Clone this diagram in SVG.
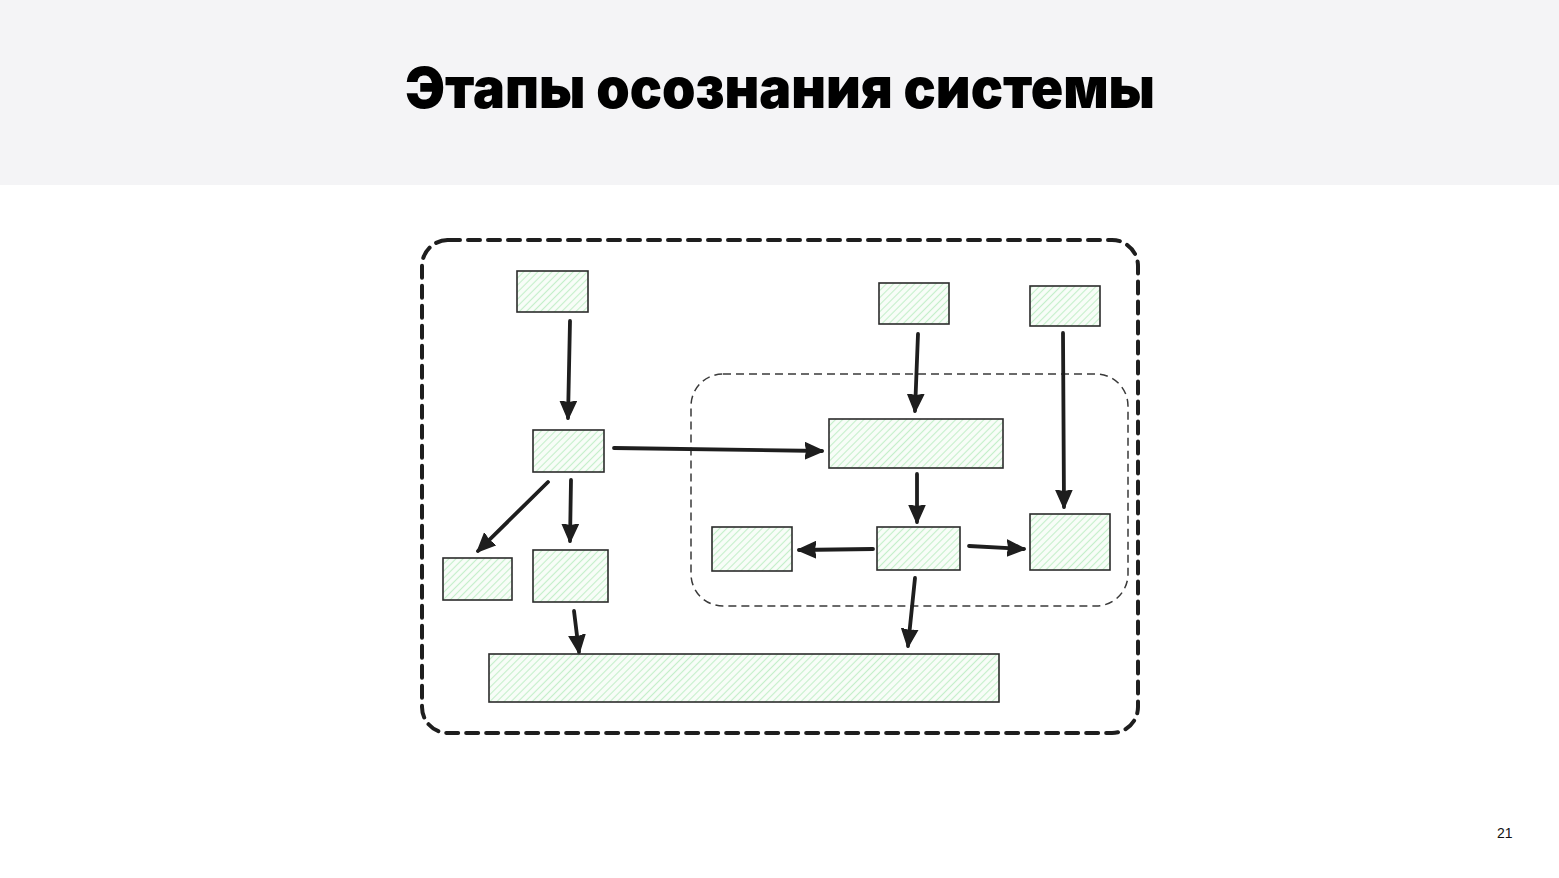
<svg xmlns="http://www.w3.org/2000/svg" width="1559" height="878" viewBox="0 0 1559 878">
  <defs>
    <pattern id="hatch" patternUnits="userSpaceOnUse" width="5" height="5" patternTransform="rotate(45)">
      <rect width="5" height="5" fill="#f8fdf8"/>
      <line x1="2.5" y1="0" x2="2.5" y2="5" stroke="#c4efca" stroke-width="1.1"/>
    </pattern>
    <marker id="arrow" markerUnits="userSpaceOnUse" markerWidth="22" markerHeight="20" refX="17" refY="9" orient="auto">
      <path d="M0,1 L18,9 L0,17 L2,9 Z" fill="#1e1e1e" stroke="#1e1e1e" stroke-width="1.5" stroke-linejoin="round"/>
    </marker>
    <style>
      .node { fill: url(#hatch); stroke: #2b2b2b; stroke-width: 1.6; }
      .conn { stroke: #1e1e1e; stroke-width: 3.8; fill: none; stroke-linecap: round; marker-end: url(#arrow); }
      .title { font-family: Inter, "Liberation Sans", sans-serif; font-weight: 900; font-size: 56px; fill: #000; }
      .pg { font-family: "Liberation Sans", Arial, sans-serif; font-size: 14px; fill: #111; }
    </style>
  </defs>

  <rect x="0" y="0" width="1559" height="878" fill="#ffffff"/>
  <rect x="0" y="0" width="1559" height="185" fill="#f4f4f6"/>
  <text class="title" x="405" y="108" textLength="750" lengthAdjust="spacingAndGlyphs">Этапы осознания системы</text>

  <g id="outer-frame">
    <rect x="422" y="240" width="716" height="493" rx="26" ry="26" fill="none" stroke="#1e1e1e" stroke-width="4" stroke-dasharray="12 8" stroke-linecap="round"/>
  </g>
  <g id="inner-frame">
    <rect x="691" y="374" width="437" height="232" rx="32" ry="32" fill="none" stroke="#3a3a3a" stroke-width="1.5" stroke-dasharray="8 5"/>
  </g>

  <g id="connectors">
    <path class="conn" d="M570,321 L568,418"/>
    <path class="conn" d="M614,448 L822,451"/>
    <path class="conn" d="M548,482 L478,551"/>
    <path class="conn" d="M571,480 L570,541"/>
    <path class="conn" d="M918,334 L915,411"/>
    <path class="conn" d="M1063,333 L1064,507"/>
    <path class="conn" d="M917,474 L917,522"/>
    <path class="conn" d="M873,549 L799,550"/>
    <path class="conn" d="M969,546 L1024,549"/>
    <path class="conn" d="M574,611 L579,652"/>
    <path class="conn" d="M915,578 L908,646"/>
  </g>

  <g id="node-a"><rect class="node" x="517" y="271" width="71" height="41"/></g>
  <g id="node-b"><rect class="node" x="533" y="430" width="71" height="42"/></g>
  <g id="node-c"><rect class="node" x="443" y="558" width="69" height="42"/></g>
  <g id="node-d"><rect class="node" x="533" y="550" width="75" height="52"/></g>
  <g id="node-e"><rect class="node" x="829" y="419" width="174" height="49"/></g>
  <g id="node-f"><rect class="node" x="879" y="283" width="70" height="41"/></g>
  <g id="node-g"><rect class="node" x="1030" y="286" width="70" height="40"/></g>
  <g id="node-h"><rect class="node" x="712" y="527" width="80" height="44"/></g>
  <g id="node-i"><rect class="node" x="877" y="527" width="83" height="43"/></g>
  <g id="node-j"><rect class="node" x="1030" y="514" width="80" height="56"/></g>
  <g id="node-k"><rect class="node" x="489" y="654" width="510" height="48"/></g>

  <text class="pg" x="1497" y="838">21</text>
</svg>
